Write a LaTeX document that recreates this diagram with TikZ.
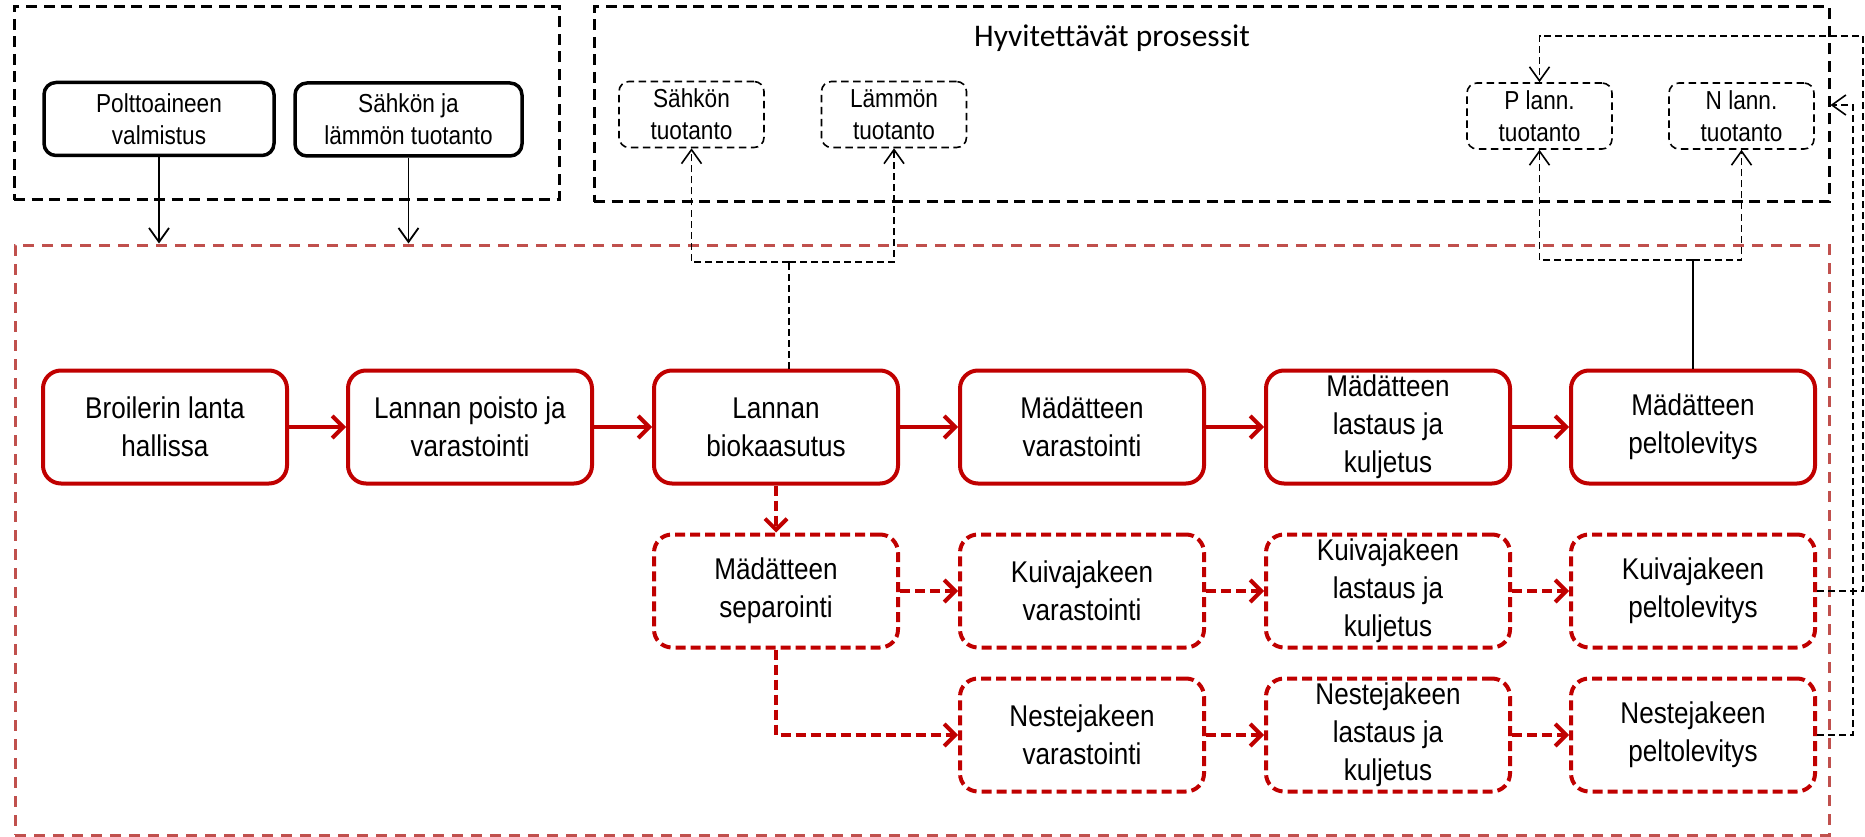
\documentclass[tikz,border=0pt]{standalone}
\usepackage{fontspec}
\setmainfont{Liberation Sans}[FakeStretch=0.87]
\newfontfamily\titlefont{Carlito}
\usetikzlibrary{arrows.meta,calc}
\definecolor{boxred}{HTML}{C00000}
\definecolor{framered}{HTML}{C0504D}
\begin{document}
\begin{tikzpicture}[x=1pt,y=-1pt,
  blackframe/.style={draw=black,line width=3pt,dash pattern=on 11pt off 6.5pt,inner sep=0pt},
  redframe/.style={draw=framered,line width=3pt,dash pattern=on 11pt off 8pt,inner sep=0pt},
  proc/.style={draw=boxred,line width=4pt,rounded corners=18pt,fill=white,minimum width=244pt,minimum height=113pt,inner sep=0pt,align=center,font=\fontsize{30}{38}\selectfont},
  procd/.style={proc,dash pattern=on 10pt off 5pt},
  topbox/.style={draw=black,line width=3.5pt,rounded corners=12pt,fill=white,inner sep=0pt,minimum height=73pt,align=center,font=\fontsize{26}{32}\selectfont},
  hyvbox/.style={draw=black,line width=1.6pt,dash pattern=on 7.5pt off 4.5pt,rounded corners=10pt,fill=white,minimum width=145pt,minimum height=66pt,inner sep=0pt,align=center,font=\fontsize{26}{32}\selectfont},
  redarrow/.style={draw=boxred,line width=4pt,-{Straight Barb[length=11pt,width=22pt]}},
  redarrowd/.style={redarrow,dash pattern=on 10pt off 5pt},
  blackarrow/.style={draw=black,line width=1.8pt,-{Straight Barb[length=14pt,width=20pt]}},
  conn/.style={draw=black,line width=1.6pt,dash pattern=on 7pt off 4pt},
  connarrow/.style={conn,-{Straight Barb[length=14pt,width=20pt]}},
  plainline/.style={draw=black,line width=1.6pt},
]
\useasboundingbox (0,0) rectangle (1865,837);

% frames
\node[blackframe,minimum width=545pt,minimum height=193pt] (leftframe) at (286.5,103.5) {};
\node[blackframe,minimum width=1235pt,minimum height=195pt] (hyvframe) at (1211.5,104.5) {};
\node[redframe,minimum width=1814pt,minimum height=590pt] (mainframe) at (922,540) {};

\node[font=\titlefont\fontsize{31.5}{36}\selectfont] (title) at (1112,38) {Hyvitettävät prosessit};

% top boxes
\node[topbox,minimum width=230pt] (pol) at (159,119) {Polttoaineen\\valmistus};
\node[topbox,minimum width=227pt] (shl) at (408.5,119.5) {Sähkön ja\\lämmön tuotanto};

% credited processes
\node[hyvbox] (sah) at (691.5,114.5) {Sähkön\\tuotanto};
\node[hyvbox] (lam) at (894,114.5) {Lämmön\\tuotanto};
\node[hyvbox] (pl) at (1539.5,116) {P lann.\\tuotanto};
\node[hyvbox] (nl) at (1741.5,116) {N lann.\\tuotanto};

% row 1
\node[proc] (b1) at (165,427) {Broilerin lanta\\hallissa};
\node[proc] (b2) at (470,427) {Lannan poisto ja\\varastointi};
\node[proc] (b3) at (776,427) {Lannan\\biokaasutus};
\node[proc] (b4) at (1082,427) {Mädätteen\\varastointi};
\node[proc] (b5) at (1388,427) {Mädätteen\\lastaus ja\\kuljetus};
\node[proc] (b6) at (1693,427) {Mädätteen\\peltolevitys};

% row 2
\node[procd] (s1) at (776,591) {Mädätteen\\separointi};
\node[procd] (s2) at (1082,591) {Kuivajakeen\\varastointi};
\node[procd] (s3) at (1388,591) {Kuivajakeen\\lastaus ja\\kuljetus};
\node[procd] (s4) at (1693,591) {Kuivajakeen\\peltolevitys};

% row 3
\node[procd] (n2) at (1082,735) {Nestejakeen\\varastointi};
\node[procd] (n3) at (1388,735) {Nestejakeen\\lastaus ja\\kuljetus};
\node[procd] (n4) at (1693,735) {Nestejakeen\\peltolevitys};

% black arrows from top boxes
\draw[blackarrow] (pol.south) -- (pol.south |- mainframe.north);
\draw[blackarrow] (shl.south) -- (shl.south |- mainframe.north);

% red flow
\draw[redarrow] (b1) -- (b2);
\draw[redarrow] (b2) -- (b3);
\draw[redarrow] (b3) -- (b4);
\draw[redarrow] (b4) -- (b5);
\draw[redarrow] (b5) -- (b6);
\draw[redarrowd] (b3.south) -- (s1.north);
\draw[redarrowd] (s1) -- (s2);
\draw[redarrowd] (s2) -- (s3);
\draw[redarrowd] (s3) -- (s4);
\draw[redarrowd] (s1.south) |- (n2.west);
\draw[redarrowd] (n2) -- (n3);
\draw[redarrowd] (n3) -- (n4);

% credits: energy
\coordinate (k1) at (789,262);
\draw[conn] (b3.north -| k1) -- (k1);
\draw[connarrow] (k1) -| (sah.south);
\draw[connarrow] (k1) -| (lam.south);

% credits: fertiliser
\coordinate (k2) at (1693,260);
\draw[plainline] (b6.north) -- (k2);
\draw[connarrow] (k2) -| (pl.south);
\draw[connarrow] (k2) -| (nl.south);

% right side returns
\coordinate (k3) at (1863,36);
\draw[connarrow] (s4.east) -| (k3) -| (pl.north);
\coordinate (k4) at (1853,105);
\draw[connarrow] (n4.east) -| (k4) -- (k4 -| hyvframe.east);
\end{tikzpicture}
\end{document}
